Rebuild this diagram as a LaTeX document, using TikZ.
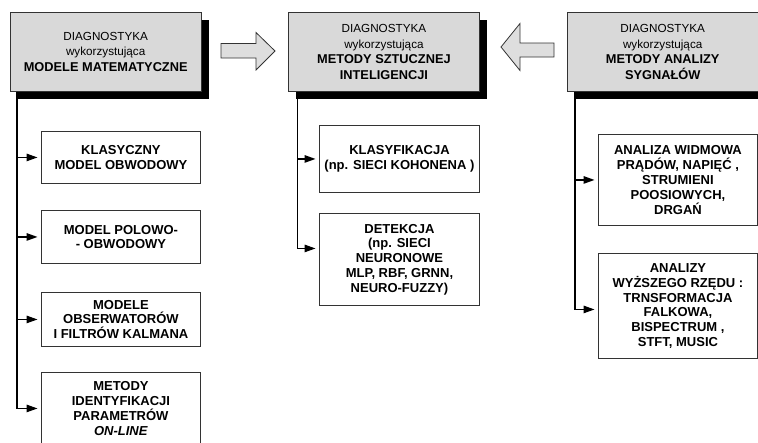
\documentclass[tikz,border=0pt]{standalone}
\usepackage{fontspec}
\setmainfont{Liberation Sans}
\usetikzlibrary{arrows.meta,calc,shadows}
\newcommand\headbf[1]{{\fontsize{12.8}{15.7}\selectfont\bfseries #1}}
\begin{document}
\begin{tikzpicture}[x=1pt,y=-1pt,
  headbox/.style={draw=black!80, line width=0.9pt, fill=black!15,
    anchor=north west, align=center, inner sep=0pt,
    general shadow={fill=black, shadow xshift=8pt, shadow yshift=-8pt},
    font=\fontsize{11.7}{15.7}\selectfont},
  subbox/.style={draw=black!80, line width=0.9pt, fill=white,
    anchor=north west, align=center, inner sep=0pt,
    font=\fontsize{13}{14.8}\selectfont\bfseries},
  conn/.style={line width=1.3pt, -{Triangle[length=11pt,width=7.5pt]},
    shorten >=3.5pt},
  blockarrow/.style={draw=black!80, line width=0.8pt, fill=black!13,
    line join=miter}]
\useasboundingbox (0,0) rectangle (758,442);
\clip (0,0) rectangle (758,442);

% top row: the three diagnostic approaches
\node[headbox, minimum width=191.5pt, minimum height=79pt] (m1) at (9.5,12)
  {DIAGNOSTYKA\\wykorzystująca\\\headbf{MODELE MATEMATYCZNE}};
\node[headbox, minimum width=191pt, minimum height=79pt] (m2) at (288,12)
  {DIAGNOSTYKA\\wykorzystująca\\\headbf{METODY SZTUCZNEJ}\\\headbf{INTELIGENCJI}};
\node[headbox, minimum width=190.5pt, minimum height=79pt] (m3) at (567,12)
  {DIAGNOSTYKA\\wykorzystująca\\\headbf{METODY ANALIZY}\\\headbf{SYGNAŁÓW}};

% hollow arrows pointing towards the middle approach
\draw[blockarrow] (221,43.5) -- (256,43.5) -- (256,32.5) -- (275,51)
  -- (256,70) -- (256,58) -- (221,58) -- cycle;
\draw[blockarrow] (554,43) -- (520,43) -- (520,23.5) -- (501,47)
  -- (520,70.5) -- (520,57) -- (554,57) -- cycle;

% mathematical models
\node[subbox, minimum width=159pt, minimum height=52pt] (a) at (41,131)
  {KLASYCZNY\\MODEL OBWODOWY};
\node[subbox, minimum width=159pt, minimum height=53pt] (b) at (41,210)
  {MODEL POLOWO-\\- OBWODOWY};
\node[subbox, minimum width=159pt, minimum height=54pt] (c) at (41,292)
  {MODELE\\OBSERWATORÓW\\I FILTRÓW KALMANA};
\node[subbox, minimum width=159pt, minimum height=72pt] (d) at (41,372)
  {METODY\\IDENTYFIKACJI\\PARAMETRÓW\\\textit{ON-LINE}};

% artificial intelligence methods
\node[subbox, minimum width=160pt, minimum height=67pt] (e) at (319,125)
  {KLASYFIKACJA\\(np. SIECI KOHONENA )};
\node[subbox, minimum width=160pt, minimum height=92pt] (f) at (319,213)
  {DETEKCJA\\(np. SIECI\\NEURONOWE\\MLP, RBF, GRNN,\\NEURO-FUZZY)};

% signal analysis methods
\node[subbox, minimum width=159pt, minimum height=91pt] (g) at (598,134)
  {ANALIZA WIDMOWA\\PRĄDÓW, NAPIĘĆ ,\\STRUMIENI\\POOSIOWYCH,\\DRGAŃ};
\node[subbox, minimum width=159pt, minimum height=105pt] (h) at (598,253)
  {ANALIZY\\WYŻSZEGO RZĘDU :\\TRNSFORMACJA\\FALKOWA,\\BISPECTRUM ,\\STFT, MUSIC};

% trunks leaving the top boxes
\coordinate (t1) at ($(m1.south west)+(7.5,0)$);
\coordinate (t2) at ($(m2.south west)+(9.5,0)$);
\coordinate (t3) at ($(m3.south west)+(8,0)$);

\draw[conn] (t1) |- (a.west);
\draw[conn] (t1) |- (b.west);
\draw[conn] (t1) |- (c.west);
\draw[conn] (t1) |- (d.west);

\draw[conn] (t2) |- (e.west);
\draw[conn] (t2) |- ($(f.west)+(0,-11)$);

\draw[conn] (t3) |- (g.west);
\draw[conn] (t3) |- ($(h.west)+(0,3.5)$);
\end{tikzpicture}
\end{document}
